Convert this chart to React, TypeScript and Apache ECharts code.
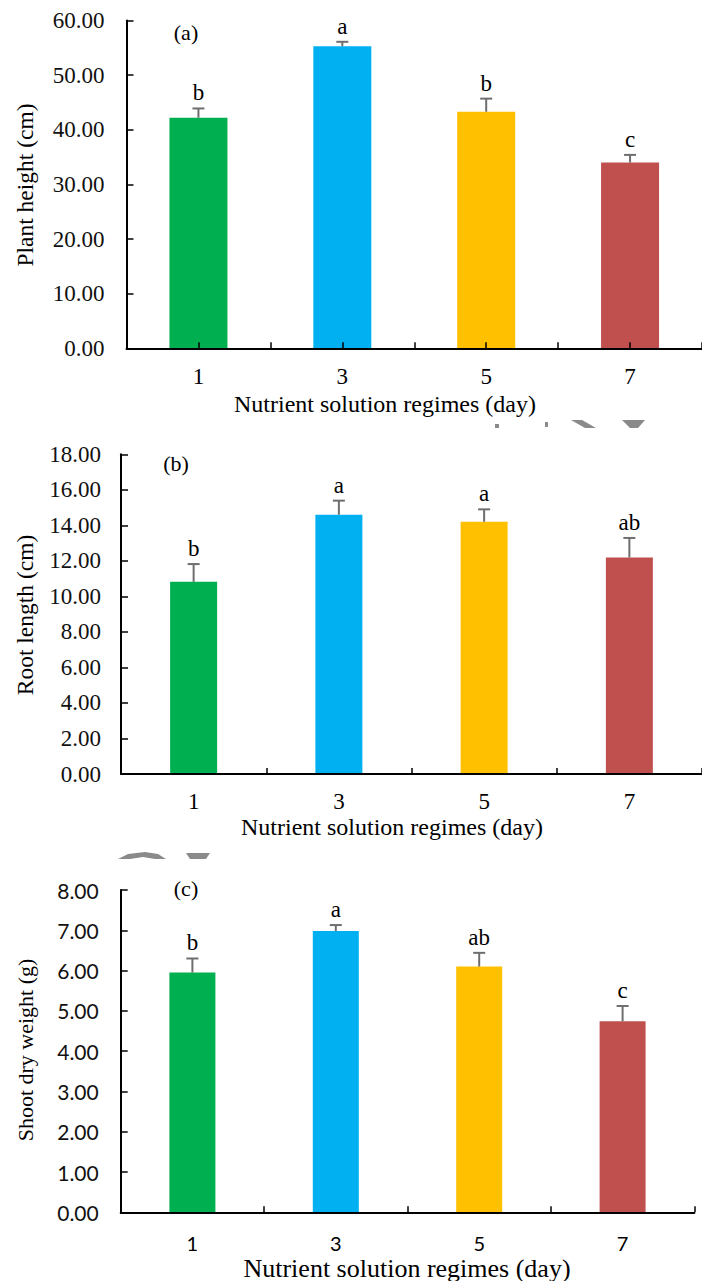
import React, { useEffect, useRef } from "react";
import * as echarts from "echarts";

const categories = ["1", "3", "5", "7"];
const barColors = ["#00B050", "#00B0F0", "#FFC000", "#C0504D"];

const heightMeans = [42.2, 55.3, 43.3, 34.0];
const heightErrors = [1.7, 0.8, 2.4, 1.4];
const heightLetters = ["b", "a", "b", "c"];

const rootMeans = [10.82, 14.6, 14.2, 12.19];
const rootErrors = [1.0, 0.79, 0.7, 1.1];
const rootLetters = ["b", "a", "a", "ab"];

const shootMeans = [5.95, 6.98, 6.1, 4.74];
const shootErrors = [0.35, 0.15, 0.34, 0.38];
const shootLetters = ["b", "a", "ab", "c"];

const yMax = [60, 18, 8];
const yInterval = [10, 2, 1];
const yTitles = ["Plant height (cm)", "Root length (cm)", "Shoot dry weight (g)"];
const panelLabels = ["(a)", "(b)", "(c)"];
const xTitle = "Nutrient solution regimes (day)";

const SERIF = "Liberation Serif";
const SANS = "Lato";

export default function App() {
  const ref = useRef<HTMLDivElement>(null);
  useEffect(() => {
    if (!ref.current) return;
    const chart = echarts.init(ref.current, null, { renderer: "svg" });

    const means = [heightMeans, rootMeans, shootMeans];
    const errors = [heightErrors, rootErrors, shootErrors];
    const letters = [heightLetters, rootLetters, shootLetters];

    const layout = [
      { left: 126.5, top: 20.5, width: 581, height: 327.8, barWidth: 58, tickFont: SERIF, tickSize: 23, catFont: SERIF, catSize: 23, catMargin: 17, yMargin: 22, xTitleY: 404, xTitleX: 385, xTitleSize: 24, yTitleY: 185, yTitleSize: 23.5, labelX: 186, labelY: 32, centerTicks: true },
      { left: 121, top: 454.3, width: 588, height: 319.7, barWidth: 47, tickFont: SERIF, tickSize: 23, catFont: SERIF, catSize: 23, catMargin: 16, yMargin: 20, xTitleY: 827, xTitleX: 392, xTitleSize: 24, yTitleY: 615, yTitleSize: 23.5, labelX: 176, labelY: 463, centerTicks: false },
      { left: 120.7, top: 890, width: 573.6, height: 322.3, barWidth: 46, tickFont: SANS, tickSize: 21, catFont: SANS, catSize: 20, catMargin: 21, yMargin: 22, xTitleY: 1268, xTitleX: 407, xTitleSize: 26, yTitleY: 1050, yTitleSize: 22, labelX: 186, labelY: 888, centerTicks: false },
    ];

    const grids: any[] = [];
    const xAxes: any[] = [];
    const yAxes: any[] = [];
    const series: any[] = [];
    const graphics: any[] = [];

    layout.forEach((L, p) => {
      grids.push({ left: L.left, top: L.top, width: L.width, height: L.height, containLabel: false });
      const xIndex = xAxes.length;
      xAxes.push({
        type: "category",
        gridIndex: p,
        data: categories,
        boundaryGap: true,
        position: "bottom",
        z: 10,
        axisLine: { lineStyle: { color: "#000", width: 2 } },
        axisTick: { show: true, inside: true, length: 6, lineStyle: { color: "#000", width: 1.5 } },
        axisLabel: { fontFamily: L.catFont, fontSize: L.catSize, color: "#000", margin: L.catMargin },
        splitLine: { show: false },
      });
      if (L.centerTicks) {
        xAxes.push({
          type: "category",
          gridIndex: p,
          data: categories,
          boundaryGap: true,
          position: "bottom",
          z: 10,
          axisLine: { show: false },
          axisTick: { show: true, inside: true, alignWithLabel: true, length: 6, lineStyle: { color: "#000", width: 1.5 } },
          axisLabel: { show: false },
          splitLine: { show: false },
        });
      }
      yAxes.push({
        type: "value",
        gridIndex: p,
        min: 0,
        max: yMax[p],
        interval: yInterval[p],
        z: 10,
        axisLine: { show: true, lineStyle: { color: "#000", width: 2 } },
        axisTick: { show: true, inside: true, length: 7, lineStyle: { color: "#000", width: 1.5 } },
        axisLabel: {
          fontFamily: L.tickFont,
          fontSize: L.tickSize,
          color: "#111",
          margin: L.yMargin,
          formatter: (v: number) => v.toFixed(2),
        },
        splitLine: { show: false },
      });
      series.push({
        type: "bar",
        xAxisIndex: xIndex,
        yAxisIndex: p,
        barWidth: L.barWidth,
        data: means[p].map((v, i) => ({ value: v, itemStyle: { color: barColors[i] } })),
        z: 2,
      });
      const lets = letters[p];
      series.push({
        type: "custom",
        xAxisIndex: xIndex,
        yAxisIndex: p,
        z: 5,
        encode: { x: 0, y: 1 },
        data: means[p].map((v, i) => [i, v, errors[p][i]]),
        renderItem: (params: any, api: any) => {
          const i = api.value(0);
          const m = api.value(1);
          const e = api.value(2);
          const base = api.coord([i, m]);
          const top = api.coord([i, m + e]);
          const x = base[0];
          const cap = 6;
          return {
            type: "group",
            children: [
              { type: "line", shape: { x1: x, y1: base[1], x2: x, y2: top[1] }, style: { stroke: "#6e6e6e", lineWidth: 2 } },
              { type: "line", shape: { x1: x - cap, y1: top[1], x2: x + cap, y2: top[1] }, style: { stroke: "#6e6e6e", lineWidth: 2 } },
              {
                type: "text",
                x: x,
                y: top[1] - 4,
                style: {
                  text: lets[params.dataIndex],
                  align: "center",
                  verticalAlign: "bottom",
                  fontFamily: SERIF,
                  fontSize: 23,
                  fill: "#000",
                },
              },
            ],
          };
        },
      });

      graphics.push({
        type: "text",
        x: L.xTitleX,
        y: L.xTitleY,
        style: { text: xTitle, align: "center", verticalAlign: "middle", fontFamily: SERIF, fontSize: L.xTitleSize, fill: "#000" },
      });
      graphics.push({
        type: "text",
        x: 25,
        y: L.yTitleY,
        rotation: Math.PI / 2,
        style: { text: yTitles[p], align: "center", verticalAlign: "middle", fontFamily: SERIF, fontSize: L.yTitleSize, fill: "#000" },
      });
      graphics.push({
        type: "text",
        x: L.labelX,
        y: L.labelY,
        style: { text: panelLabels[p], align: "center", verticalAlign: "middle", fontFamily: SERIF, fontSize: 22, fill: "#000" },
      });
    });

    // watermark fragments
    const wm = "#8a8a8a";
    graphics.push(
      { type: "polygon", shape: { points: [[571, 420], [582, 420], [596, 428], [585, 428]] }, style: { fill: wm } },
      { type: "polygon", shape: { points: [[622, 420], [645, 420], [638, 428], [630, 428]] }, style: { fill: wm } },
      { type: "polygon", shape: { points: [[495, 424], [499, 424], [499, 428], [495, 428]] }, style: { fill: wm } },
      { type: "polygon", shape: { points: [[545, 422], [548, 422], [548, 427], [545, 427]] }, style: { fill: wm } },
      { type: "polygon", shape: { points: [[118, 859], [128, 854], [145, 852], [158, 854], [166, 859], [155, 859], [143, 857], [130, 859]] }, style: { fill: wm } },
      { type: "polygon", shape: { points: [[186, 853], [210, 853], [206, 859], [190, 859]] }, style: { fill: wm } }
    );

    chart.setOption({
      animation: false,
      backgroundColor: "#fff",
      grid: grids,
      xAxis: xAxes,
      yAxis: yAxes,
      series,
      graphic: graphics,
    });

    return () => chart.dispose();
  }, []);

  return <div ref={ref} style={{ position: "absolute", left: 0, top: 0, width: 702, height: 1281 }} />;
}
